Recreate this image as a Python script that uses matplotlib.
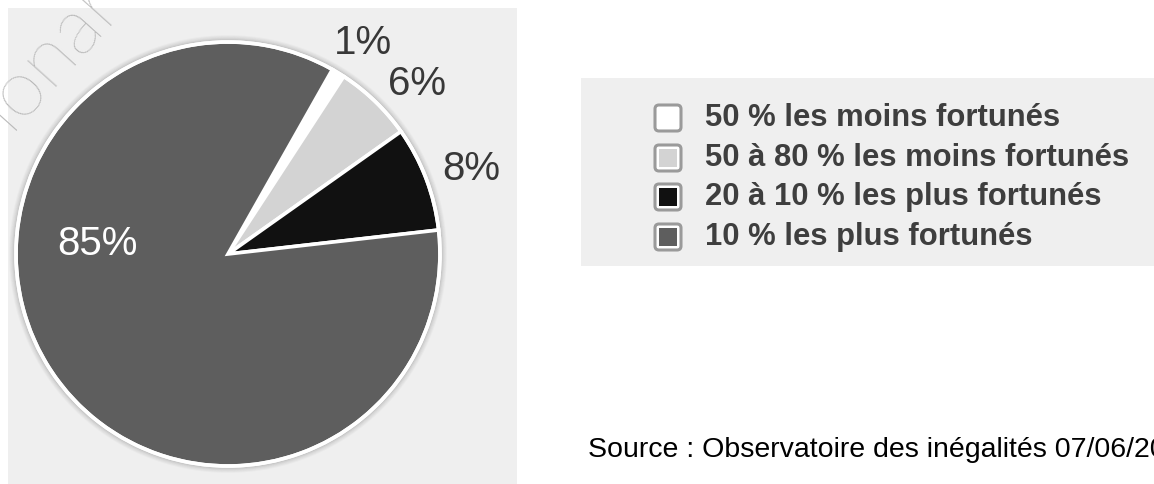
import matplotlib
matplotlib.use("Agg")
import matplotlib.pyplot as plt
from matplotlib.patches import Rectangle, Circle, FancyBboxPatch

# Répartition du patrimoine
categories = [
    "50 % les moins fortunés",
    "50 à 80 % les moins fortunés",
    "20 à 10 % les plus fortunés",
    "10 % les plus fortunés",
]
shares = [1, 6, 8, 85]
slice_colors = ["#ffffff", "#d3d3d3", "#111111", "#5e5e5e"]
source_text = "Source : Observatoire des inégalités 07/06/20"

W, H = 1154, 484
fig = plt.figure(figsize=(W / 100, H / 100), dpi=100)
ax = fig.add_axes([0, 0, 1, 1])


def py(y):
    """Convert a top-down pixel row to the upward data axis."""
    return H - y


# Panel backgrounds
ax.add_patch(Rectangle((8, py(484)), 509, 476, facecolor="#efefef", edgecolor="none", zorder=0))
ax.add_patch(Rectangle((581, py(266)), 573, 188, facecolor="#efefef", edgecolor="none", zorder=0))

# Faint watermark in the corner
ax.text(50, py(54), "ionar", rotation=48, fontsize=58, family="Lato", fontweight="light",
        color="#b4b4b4", ha="center", va="center", zorder=1, clip_on=True)

# Pie with a soft halo around its rim
cx, cy, R = 228, py(254), 212
for k, a in zip(range(6, 0, -1), [0.05, 0.08, 0.12, 0.18, 0.25, 0.3]):
    ax.add_patch(Circle((cx, cy), R + k, facecolor="none", edgecolor="#808080",
                        linewidth=1.2, alpha=a, zorder=2))
wedges, _ = ax.pie(shares, colors=slice_colors, startangle=60.5, counterclock=False,
                   center=(cx, cy), radius=R,
                   wedgeprops=dict(edgecolor="white", linewidth=2.6, zorder=3))
ax.add_patch(Circle((cx, cy), R, facecolor="none", edgecolor="white", linewidth=2.6, zorder=4))

# Percentage labels
label_pos = [(363, 43), (417, 84), (471, 169), (97, 244)]
label_col = ["#383838", "#383838", "#383838", "#ffffff"]
for v, (lx, ly), c in zip(shares, label_pos, label_col):
    ax.text(lx, py(ly), f"{v}%", fontsize=29, family="Liberation Sans", color=c,
            ha="center", va="center", zorder=5)

# Legend
row_y = [118, 158, 197, 237]
for name, col, ry in zip(categories, slice_colors, row_y):
    ax.add_patch(FancyBboxPatch((655, py(ry) - 13), 26, 26,
                                boxstyle="round,pad=0,rounding_size=4",
                                facecolor="white", edgecolor="#9a9a9a", linewidth=2.2, zorder=3))
    ax.add_patch(Rectangle((659, py(ry) - 9), 18, 18, facecolor=col,
                           edgecolor="none", zorder=4))
    ax.text(705, py(ry), name, fontsize=22.3, family="Liberation Sans", fontweight="bold",
            color="#3e3e3e", ha="left", va="center", zorder=5)

# Source line
ax.text(588, py(450), source_text, fontsize=20.5, family="Liberation Sans",
        color="#000000", ha="left", va="center", zorder=5, clip_on=True)

ax.set_xlim(0, W)
ax.set_ylim(0, H)
ax.set_aspect("auto")
ax.axis("off")
fig.savefig("out.png", dpi=100, facecolor="white")
